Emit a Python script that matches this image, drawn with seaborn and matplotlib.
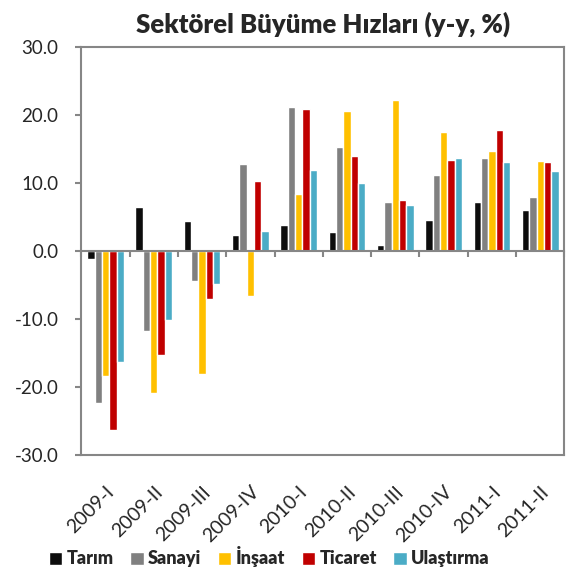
import numpy as np
import pandas as pd
import matplotlib
matplotlib.use("Agg")
import matplotlib.pyplot as plt
import seaborn as sns

sns.set_theme(style="white")
plt.rcParams['font.family'] = ['Lato', 'DejaVu Sans']

periods = ['2009-I', '2009-II', '2009-III', '2009-IV', '2010-I', '2010-II',
           '2010-III', '2010-IV', '2011-I', '2011-II']
sectors = ['Tarım', 'Sanayi', 'İnşaat', 'Ticaret', 'Ulaştırma']
tarim = [-1.2, 6.4, 4.4, 2.4, 3.8, 2.8, 0.9, 4.5, 7.2, 6.0]
sanayi = [-22.3, -11.7, -4.4, 12.7, 21.2, 15.2, 7.2, 11.2, 13.7, 8.0]
insaat = [-18.4, -20.8, -18.1, -6.6, 8.3, 20.5, 22.1, 17.5, 14.7, 13.2]
ticaret = [-26.3, -15.2, -7.1, 10.3, 20.8, 13.9, 7.5, 13.3, 17.7, 13.0]
ulastirma = [-16.3, -10.2, -4.8, 2.9, 11.9, 10.0, 6.8, 13.7, 13.0, 11.8]
colors = ['#0D0D0D', '#808080', '#FFC000', '#C00000', '#4BACC6']

df = pd.DataFrame({'Dönem': periods, 'Tarım': tarim, 'Sanayi': sanayi,
                   'İnşaat': insaat, 'Ticaret': ticaret, 'Ulaştırma': ulastirma})
df = df.melt(id_vars='Dönem', var_name='Sektör', value_name='Değer')

axis_gray = '#868686'
fig = plt.figure(figsize=(5.73, 5.76), dpi=100)
ax = fig.add_axes([0.142, 0.2095, 0.843, 0.7095])
sns.barplot(data=df, x='Dönem', y='Değer', hue='Sektör', hue_order=sectors,
            palette=colors, saturation=1, width=0.76, gap=0, ax=ax)

ax.set_ylim(-30, 30)
ax.set_xlim(-0.5, len(periods) - 0.5)
ax.set_yticks(np.arange(-30, 31, 10))
ax.set_yticklabels([f'{v:.1f}' for v in np.arange(-30, 31, 10)], fontsize=13.5)
ax.set_xlabel('')
ax.set_ylabel('')
for s in ax.spines.values():
    s.set_color(axis_gray)
    s.set_linewidth(1.5)
ax.tick_params(axis='y', length=4.5, width=1.5, color=axis_gray, left=True, pad=12)
ax.tick_params(axis='x', length=0, pad=20)
plt.setp(ax.get_xticklabels(), rotation=45, ha='right', rotation_mode='anchor', fontsize=14)

# zero line with category separators
ax2 = ax.twiny()
ax2.set_xlim(ax.get_xlim())
for name in ['top', 'left', 'right']:
    ax2.spines[name].set_visible(False)
ax2.spines['bottom'].set_position(('data', 0))
ax2.spines['bottom'].set_color(axis_gray)
ax2.spines['bottom'].set_linewidth(1.5)
ax2.xaxis.set_ticks_position('bottom')
ax2.set_xticks(np.arange(len(periods) + 1) - 0.5)
ax2.set_xticklabels([])
ax2.tick_params(axis='x', direction='out', length=4, width=1.5, color=axis_gray)

ax.set_title('Sektörel Büyüme Hızları (y-y, %)', fontsize=18.5, fontweight='heavy', pad=10)

handles, labels = ax.get_legend_handles_labels()
ax.get_legend().remove()
fig.legend(handles, labels, loc='center', bbox_to_anchor=(0.47, 0.033), ncol=5,
           frameon=False, handlelength=0.75, handleheight=0.75, handletextpad=0.25,
           columnspacing=0.9, prop={'size': 13, 'weight': 'heavy'})

plt.savefig('out.png', dpi=100)
